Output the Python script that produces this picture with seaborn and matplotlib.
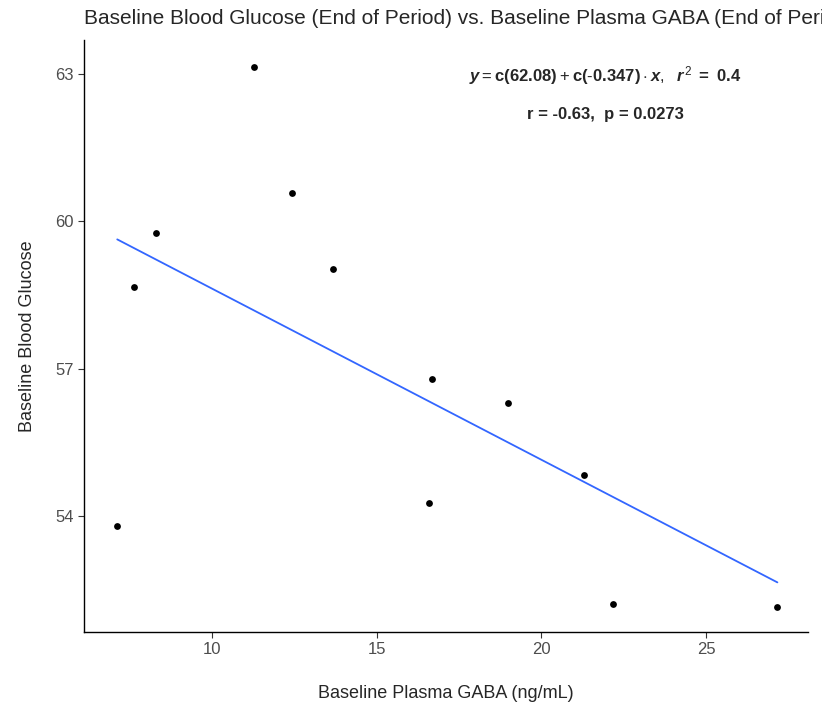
import matplotlib
matplotlib.use("Agg")
import matplotlib.pyplot as plt
import seaborn as sns
import pandas as pd

gaba = [7.11, 7.63, 8.30, 11.28, 12.43, 13.68, 16.57, 16.66, 18.97, 21.28, 22.16, 27.17]
glucose = [53.80, 58.67, 59.76, 63.14, 60.57, 59.02, 54.27, 56.78, 56.31, 54.84, 52.20, 52.14]
df = pd.DataFrame({"gaba": gaba, "glucose": glucose})

sns.set_style("white")
plt.rcParams['font.family'] = ['Liberation Sans', 'DejaVu Sans']
plt.rcParams['mathtext.fontset'] = 'custom'
plt.rcParams['mathtext.rm'] = 'Liberation Sans'
plt.rcParams['mathtext.it'] = 'Liberation Sans:italic:bold'
plt.rcParams['mathtext.bf'] = 'Liberation Sans:bold'
fig = plt.figure(figsize=(8.22, 7.04), dpi=100)
ax = fig.add_axes([84/822, 1-632/704, (808-84)/822, (632-40)/704])
sns.regplot(data=df, x="gaba", y="glucose", ci=None, ax=ax,
            scatter_kws=dict(color="black", s=24, linewidths=0, alpha=1),
            line_kws=dict(color="#3366FF", lw=1.3))
ax.set_xlim(6.1, 28.1)
ax.set_ylim(51.64, 63.69)
ax.set_xticks([10, 15, 20, 25])
ax.set_yticks([54, 57, 60, 63])
for s in ["top", "right"]:
    ax.spines[s].set_visible(False)
for s in ["left", "bottom"]:
    ax.spines[s].set_color("black")
    ax.spines[s].set_linewidth(1)
ax.tick_params(axis="both", length=4, color="#333333", labelsize=12, labelcolor="#4D4D4D", left=True, bottom=True)
ax.set_xlabel("Baseline Plasma GABA (ng/mL)", fontsize=13, labelpad=20)
ax.set_ylabel("Baseline Blood Glucose", fontsize=13, labelpad=14)
fig.text(84/822, 1-18/704, "Baseline Blood Glucose (End of Period) vs. Baseline Plasma GABA (End of Period)",
         fontsize=15, ha="left", va="center")
ax.text(0.72, 0.94, r"$\mathit{y} = \mathbf{c(62.08)} + \mathbf{c(\text{-}0.347)} \cdot \mathit{x},\ \ \mathit{r}^{2}\mathbf{\ =\ 0.4}$",
        transform=ax.transAxes, ha="center", va="center", fontsize=12)
ax.text(0.72, 0.875, "r = -0.63,  p = 0.0273", transform=ax.transAxes, ha="center", va="center",
        fontsize=12, fontweight="bold")
fig.savefig("out.png", dpi=100)
